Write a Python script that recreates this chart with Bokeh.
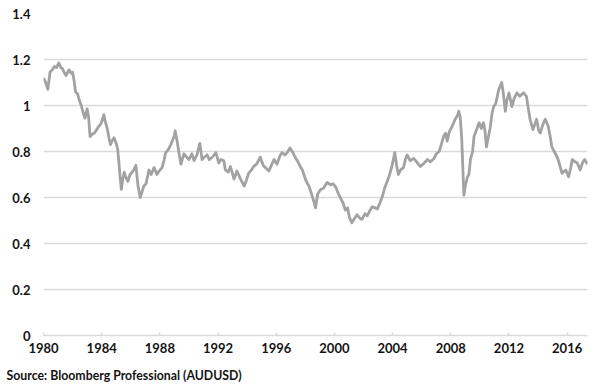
from bokeh.plotting import figure
from bokeh.models import Range1d, FixedTicker, Title, ColumnDataSource
from bokeh.embed import file_html
from bokeh.resources import INLINE

# AUD/USD exchange rate (decimal year, rate)
years = [
    1980.00, 1980.15, 1980.30, 1980.45, 1980.60, 1980.75, 1980.90, 1981.05, 1981.20, 1981.30,
    1981.45, 1981.55, 1981.75, 1981.90, 1982.00, 1982.10, 1982.20, 1982.35, 1982.45, 1982.60,
    1982.70, 1982.85, 1983.00, 1983.10, 1983.20, 1983.35, 1983.50, 1983.65, 1983.80, 1983.95,
    1984.15, 1984.25, 1984.40, 1984.50, 1984.60, 1984.75, 1984.85, 1985.00, 1985.10, 1985.20,
    1985.25, 1985.35, 1985.45, 1985.55, 1985.65, 1985.80, 1985.95, 1986.10, 1986.25, 1986.35,
    1986.50, 1986.65, 1986.80, 1986.90, 1987.05, 1987.25, 1987.40, 1987.60, 1987.80, 1987.95,
    1988.15, 1988.30, 1988.40, 1988.60, 1988.75, 1988.85, 1989.00, 1989.05, 1989.20, 1989.35,
    1989.45, 1989.65, 1989.85, 1990.00, 1990.20, 1990.35, 1990.55, 1990.75, 1990.90, 1991.05,
    1991.25, 1991.40, 1991.60, 1991.85, 1992.05, 1992.20, 1992.40, 1992.50, 1992.70, 1992.85,
    1993.10, 1993.30, 1993.55, 1993.80, 1993.95, 1994.10, 1994.30, 1994.45, 1994.65, 1994.90,
    1995.10, 1995.25, 1995.50, 1995.70, 1995.85, 1996.05, 1996.25, 1996.40, 1996.60, 1996.75,
    1996.95, 1997.15, 1997.30, 1997.45, 1997.65, 1997.80, 1998.00, 1998.15, 1998.25, 1998.45,
    1998.60, 1998.70, 1998.85, 1999.05, 1999.25, 1999.50, 1999.75, 1999.90, 2000.10, 2000.25,
    2000.40, 2000.60, 2000.75, 2000.90, 2001.05, 2001.20, 2001.35, 2001.55, 2001.75, 2001.90,
    2002.10, 2002.25, 2002.45, 2002.60, 2002.80, 2002.95, 2003.15, 2003.30, 2003.45, 2003.60,
    2003.80, 2003.95, 2004.05, 2004.15, 2004.30, 2004.40, 2004.55, 2004.75, 2004.90, 2005.00,
    2005.20, 2005.45, 2005.65, 2005.90, 2006.10, 2006.40, 2006.60, 2006.85, 2007.00, 2007.20,
    2007.35, 2007.50, 2007.65, 2007.75, 2007.90, 2008.10, 2008.30, 2008.45, 2008.55, 2008.65,
    2008.75, 2008.80, 2008.90, 2009.00, 2009.15, 2009.25, 2009.35, 2009.50, 2009.60, 2009.80,
    2009.95, 2010.10, 2010.25, 2010.35, 2010.45, 2010.60, 2010.70, 2010.85, 2010.95, 2011.10,
    2011.30, 2011.50, 2011.60, 2011.75, 2011.85, 2012.00, 2012.20, 2012.35, 2012.55, 2012.75,
    2013.00, 2013.20, 2013.35, 2013.45, 2013.65, 2013.90, 2014.05, 2014.15, 2014.35, 2014.50,
    2014.70, 2014.85, 2014.95, 2015.20, 2015.35, 2015.45, 2015.65, 2015.90, 2016.10, 2016.25,
    2016.35, 2016.55, 2016.70, 2016.90, 2017.05, 2017.20, 2017.30, 2017.40,
]
audusd = [
    1.12, 1.10, 1.07, 1.145, 1.155, 1.17, 1.165, 1.185, 1.165, 1.16,
    1.14, 1.13, 1.155, 1.14, 1.145, 1.11, 1.06, 1.05, 1.025, 1.00,
    0.975, 0.945, 0.985, 0.95, 0.865, 0.875, 0.88, 0.895, 0.91, 0.92,
    0.96, 0.93, 0.895, 0.86, 0.83, 0.85, 0.86, 0.835, 0.81, 0.74,
    0.70, 0.635, 0.68, 0.71, 0.69, 0.67, 0.70, 0.71, 0.725, 0.74,
    0.65, 0.60, 0.63, 0.65, 0.66, 0.72, 0.70, 0.73, 0.70, 0.715,
    0.73, 0.765, 0.795, 0.81, 0.83, 0.845, 0.87, 0.89, 0.84, 0.78,
    0.745, 0.79, 0.775, 0.765, 0.79, 0.76, 0.785, 0.835, 0.765, 0.775,
    0.785, 0.765, 0.775, 0.795, 0.75, 0.765, 0.76, 0.72, 0.71, 0.735,
    0.68, 0.715, 0.68, 0.65, 0.675, 0.705, 0.72, 0.735, 0.745, 0.775,
    0.74, 0.73, 0.715, 0.745, 0.765, 0.745, 0.78, 0.795, 0.785, 0.795,
    0.815, 0.795, 0.775, 0.76, 0.735, 0.72, 0.68, 0.66, 0.65, 0.61,
    0.58, 0.555, 0.615, 0.635, 0.64, 0.665, 0.655, 0.66, 0.645, 0.62,
    0.60, 0.575, 0.545, 0.555, 0.51, 0.49, 0.505, 0.525, 0.51, 0.505,
    0.53, 0.52, 0.545, 0.56, 0.555, 0.55, 0.58, 0.605, 0.64, 0.665,
    0.70, 0.735, 0.765, 0.795, 0.73, 0.70, 0.72, 0.73, 0.77, 0.785,
    0.76, 0.77, 0.755, 0.735, 0.745, 0.765, 0.755, 0.77, 0.79, 0.80,
    0.83, 0.865, 0.88, 0.845, 0.885, 0.91, 0.94, 0.955, 0.975, 0.95,
    0.86, 0.78, 0.61, 0.65, 0.69, 0.70, 0.765, 0.80, 0.865, 0.90,
    0.925, 0.90, 0.925, 0.89, 0.82, 0.87, 0.90, 0.97, 0.995, 1.01,
    1.07, 1.10, 1.06, 0.975, 1.02, 1.055, 0.995, 1.03, 1.055, 1.04,
    1.055, 1.04, 0.98, 0.94, 0.895, 0.94, 0.89, 0.88, 0.92, 0.94,
    0.91, 0.86, 0.82, 0.79, 0.77, 0.75, 0.705, 0.72, 0.69, 0.73,
    0.765, 0.755, 0.75, 0.72, 0.75, 0.765, 0.755, 0.745,
]

x_ticks = [1980, 1984, 1988, 1992, 1996, 2000, 2004, 2008, 2012, 2016]
y_ticks = [0, 0.2, 0.4, 0.6, 0.8, 1, 1.2, 1.4]
y_tick_labels = ["0", "0.2", "0.4", "0.6", "0.8", "1", "1.2", "1.4"]
source_text = "Source: Bloomberg Professional (AUDUSD)"

FONT = "Lato"
TXT = "#141414"
GRID = "#d9d9d9"

p = figure(width=600, height=392, output_backend="svg", toolbar_location=None,
           x_range=Range1d(1980, 2017.4), y_range=Range1d(0, 1.4),
           min_border_left=43, min_border_right=13, min_border_top=13,
           min_border_bottom=55)
p.outline_line_color = None
p.background_fill_color = "white"
p.border_fill_color = "white"

src = ColumnDataSource(data=dict(x=years, y=audusd))
p.line("x", "y", source=src, line_color="#a2a2a2", line_width=2.8,
       line_join="round")

# grid
p.xgrid.grid_line_color = None
p.ygrid.grid_line_color = GRID
p.ygrid.grid_line_width = 1.5

# x axis
xa = p.xaxis[0]
xa.ticker = FixedTicker(ticks=x_ticks)
xa.axis_line_color = GRID
xa.axis_line_width = 1.5
xa.major_tick_line_color = GRID
xa.major_tick_line_width = 1.5
xa.major_tick_in = 3
xa.major_tick_out = 0
xa.minor_tick_line_color = None
xa.major_label_text_font = FONT
xa.major_label_text_font_style = "bold"
xa.major_label_text_font_size = "13px"
xa.major_label_text_color = TXT
xa.major_label_standoff = 7

# y axis
ya = p.yaxis[0]
ya.ticker = FixedTicker(ticks=y_ticks)
ya.major_label_overrides = {t: l for t, l in zip(y_ticks, y_tick_labels)}
ya.axis_line_color = None
ya.major_tick_line_color = None
ya.minor_tick_line_color = None
ya.major_tick_out = 0
ya.major_tick_in = 0
ya.major_label_text_font = FONT
ya.major_label_text_font_style = "bold"
ya.major_label_text_font_size = "13px"
ya.major_label_text_color = TXT
ya.major_label_standoff = 13

t = Title(text=source_text, align="left", offset=-37,
          text_font=FONT, text_font_style="bold", text_font_size="12.3px",
          text_color=TXT, standoff=20)
p.add_layout(t, "below")

open("out.html", "w").write(file_html(p, INLINE))
